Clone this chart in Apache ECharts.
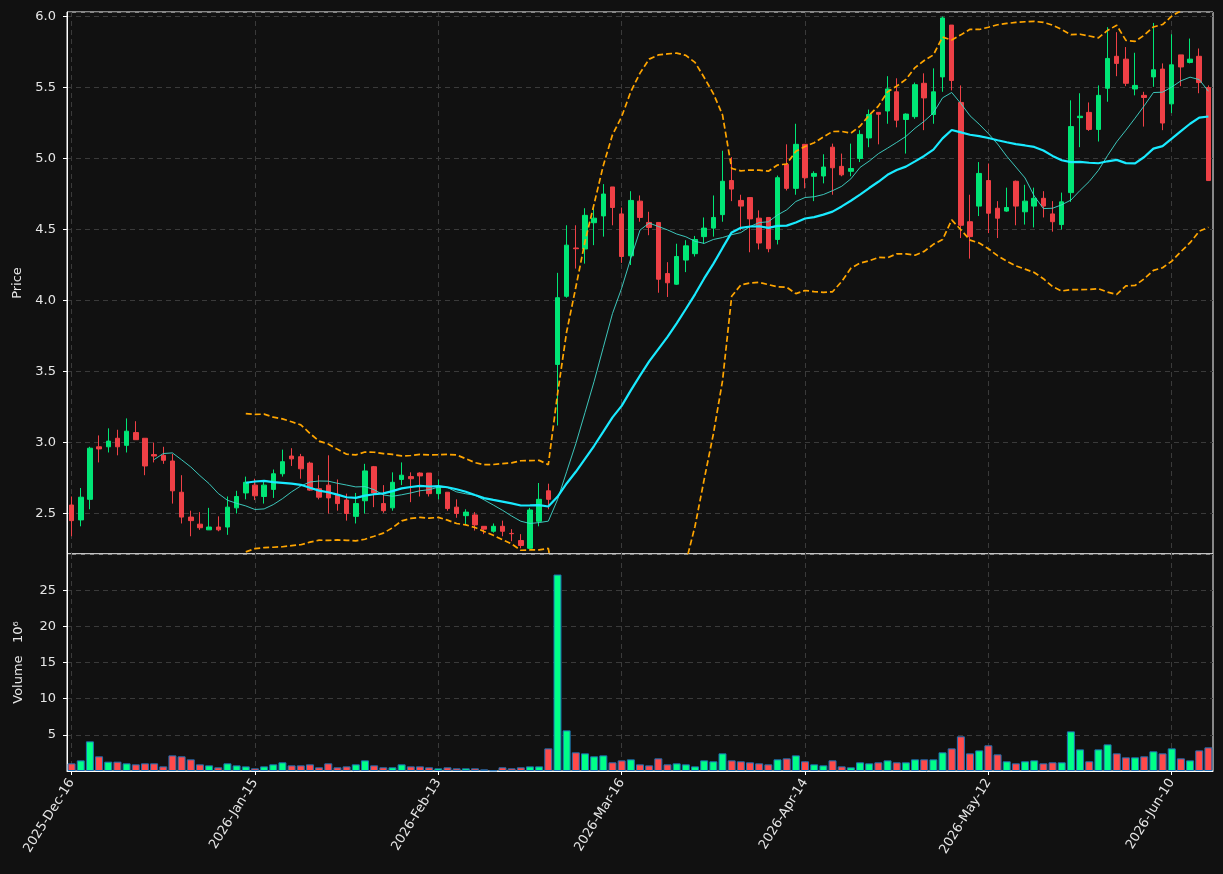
<!DOCTYPE html>
<html>
<head>
<meta charset="utf-8">
<script src="https://cdn.jsdelivr.net/npm/echarts@6/dist/echarts.min.js"></script>
<style>
html,body{margin:0;padding:0;background:#111111;}
#chart{width:1223px;height:874px;}
</style>
</head>
<body>
<div id="chart"></div>
<script>
const dates = [
'2025-Dec-16','2025-Dec-17','2025-Dec-18','2025-Dec-19','2025-Dec-22','2025-Dec-23','2025-Dec-24','2025-Dec-26','2025-Dec-29','2025-Dec-30','2025-Dec-31',
'2026-Jan-02','2026-Jan-05','2026-Jan-06','2026-Jan-07','2026-Jan-08','2026-Jan-09','2026-Jan-12','2026-Jan-13','2026-Jan-14','2026-Jan-15',
'2026-Jan-16','2026-Jan-20','2026-Jan-21','2026-Jan-22','2026-Jan-23','2026-Jan-26','2026-Jan-27','2026-Jan-28','2026-Jan-29','2026-Jan-30',
'2026-Feb-02','2026-Feb-03','2026-Feb-04','2026-Feb-05','2026-Feb-06','2026-Feb-09','2026-Feb-10','2026-Feb-11','2026-Feb-12','2026-Feb-13',
'2026-Feb-17','2026-Feb-18','2026-Feb-19','2026-Feb-20','2026-Feb-23','2026-Feb-24','2026-Feb-25','2026-Feb-26','2026-Feb-27',
'2026-Mar-02','2026-Mar-03','2026-Mar-04','2026-Mar-05','2026-Mar-06','2026-Mar-09','2026-Mar-10','2026-Mar-11','2026-Mar-12','2026-Mar-13','2026-Mar-16',
'2026-Mar-17','2026-Mar-18','2026-Mar-19','2026-Mar-20','2026-Mar-23','2026-Mar-24','2026-Mar-25','2026-Mar-26','2026-Mar-27','2026-Mar-30','2026-Mar-31',
'2026-Apr-01','2026-Apr-02','2026-Apr-06','2026-Apr-07','2026-Apr-08','2026-Apr-09','2026-Apr-10','2026-Apr-13','2026-Apr-14',
'2026-Apr-15','2026-Apr-16','2026-Apr-17','2026-Apr-20','2026-Apr-21','2026-Apr-22','2026-Apr-23','2026-Apr-24','2026-Apr-27','2026-Apr-28','2026-Apr-29','2026-Apr-30',
'2026-May-01','2026-May-04','2026-May-05','2026-May-06','2026-May-07','2026-May-08','2026-May-11','2026-May-12',
'2026-May-13','2026-May-14','2026-May-15','2026-May-18','2026-May-19','2026-May-20','2026-May-21','2026-May-22','2026-May-26','2026-May-27','2026-May-28','2026-May-29',
'2026-Jun-01','2026-Jun-02','2026-Jun-03','2026-Jun-04','2026-Jun-05','2026-Jun-08','2026-Jun-09','2026-Jun-10',
'2026-Jun-11','2026-Jun-12','2026-Jun-15','2026-Jun-16'
];

const opens = [2.56,2.455,2.60,2.97,2.97,3.03,2.98,3.07,3.03,2.915,
2.91,2.87,2.65,2.475,2.425,2.385,2.405,2.405,2.54,2.645,
2.70,2.62,2.67,2.78,2.905,2.90,2.855,2.675,2.70,2.63,
2.595,2.48,2.59,2.83,2.57,2.54,2.74,2.76,2.785,2.785,
2.64,2.65,2.545,2.485,2.49,2.41,2.375,2.41,2.36,2.31,
2.255,2.445,2.66,3.55,4.03,4.37,4.363,4.548,4.596,4.80,
4.61,4.315,4.70,4.55,4.55,4.19,4.115,4.285,4.33,4.45,
4.51,4.605,4.845,4.705,4.725,4.58,4.585,4.43,4.96,4.79,
5.10,4.875,4.877,5.08,4.945,4.91,5.0,5.145,5.325,5.335,
5.47,5.275,5.295,5.53,5.31,5.575,5.94,5.395,4.555,4.665,
4.845,4.65,4.63,4.84,4.625,4.665,4.72,4.61,4.535,4.76,
5.288,5.325,5.205,5.495,5.72,5.70,5.49,5.445,5.575,5.63,
5.385,5.73,5.677,5.72,5.50];

const closes = [2.45,2.615,2.96,2.955,3.01,2.97,3.08,3.02,2.835,2.905,
2.875,2.66,2.475,2.45,2.40,2.405,2.385,2.545,2.62,2.72,
2.625,2.70,2.78,2.865,2.885,2.815,2.665,2.615,2.61,2.57,
2.50,2.57,2.80,2.645,2.52,2.72,2.77,2.745,2.765,2.64,
2.685,2.535,2.50,2.51,2.42,2.39,2.41,2.375,2.358,2.275,
2.525,2.60,2.60,4.02,4.39,4.365,4.60,4.58,4.75,4.655,
4.31,4.705,4.585,4.515,4.15,4.125,4.31,4.385,4.43,4.51,
4.585,4.84,4.785,4.665,4.575,4.405,4.365,4.865,4.79,5.10,
4.865,4.895,4.94,4.935,4.885,4.93,5.17,5.31,5.312,5.49,
5.27,5.313,5.52,5.427,5.47,5.99,5.55,4.53,4.45,4.895,
4.615,4.58,4.655,4.665,4.70,4.72,4.665,4.555,4.695,5.225,
5.298,5.205,5.445,5.705,5.67,5.53,5.515,5.43,5.625,5.25,
5.66,5.645,5.70,5.535,4.845];

const lows = [2.34,2.41,2.53,2.86,2.93,2.91,2.93,3.02,2.77,2.86,
2.85,2.57,2.43,2.34,2.385,2.385,2.375,2.35,2.50,2.60,
2.595,2.57,2.61,2.76,2.835,2.745,2.66,2.60,2.50,2.52,
2.45,2.43,2.50,2.545,2.505,2.52,2.70,2.58,2.62,2.62,
2.60,2.52,2.47,2.42,2.38,2.355,2.365,2.34,2.305,2.255,
2.25,2.41,2.53,3.12,4.02,4.225,4.26,4.39,4.45,4.53,
4.265,4.25,4.555,4.46,4.055,4.025,4.11,4.20,4.31,4.40,
4.45,4.555,4.70,4.495,4.34,4.36,4.34,4.395,4.775,4.745,
4.79,4.70,4.825,4.745,4.875,4.875,4.975,5.08,5.10,5.245,
5.22,5.035,5.28,5.20,5.245,5.47,5.48,4.44,4.295,4.595,
4.475,4.44,4.625,4.53,4.535,4.515,4.585,4.485,4.50,4.695,
5.08,5.195,5.12,5.40,5.58,5.51,5.445,5.225,5.505,5.20,
5.32,5.51,5.67,5.46,4.845];

const highs = [2.62,2.68,2.97,3.05,3.10,3.09,3.17,3.15,3.03,3.0,
2.97,2.92,2.77,2.52,2.51,2.54,2.48,2.62,2.66,2.76,
2.745,2.735,2.81,2.95,2.96,2.92,2.865,2.77,2.91,2.74,
2.64,2.645,2.85,2.835,2.70,2.79,2.86,2.79,2.79,2.785,
2.74,2.65,2.60,2.53,2.51,2.41,2.43,2.45,2.39,2.355,
2.54,2.715,2.71,4.195,4.53,4.53,4.65,4.66,4.82,4.80,
4.655,4.77,4.74,4.625,4.55,4.27,4.40,4.425,4.455,4.585,
4.74,5.055,5.01,4.745,4.725,4.635,4.585,4.88,5.10,5.245,
5.10,4.91,5.03,5.105,5.035,5.105,5.20,5.345,5.325,5.58,
5.565,5.318,5.535,5.60,5.635,6.0,5.94,5.515,4.745,4.975,
4.965,4.70,4.795,4.845,4.815,4.795,4.77,4.70,4.76,5.41,
5.46,5.395,5.515,5.925,5.89,5.785,5.745,5.47,5.955,5.67,
5.875,5.73,5.845,5.775,5.515];

// volume in millions
const volumes = [1.06,1.47,4.1,2.03,1.29,1.29,1.06,0.92,1.06,1.06,
0.64,2.16,2.03,1.61,0.92,0.78,0.51,1.06,0.78,0.64,
0.37,0.64,0.92,1.2,0.78,0.78,0.92,0.51,1.06,0.51,
0.64,0.92,1.47,0.78,0.51,0.51,0.92,0.64,0.64,0.51,
0.37,0.51,0.37,0.37,0.37,0.23,0.09,0.51,0.37,0.51,
0.64,0.64,3.13,27.16,5.62,2.58,2.44,2.03,2.16,1.2,
1.47,1.61,0.92,0.78,1.75,0.92,1.06,0.92,0.64,1.47,
1.34,2.44,1.47,1.34,1.2,1.06,0.92,1.61,1.75,2.16,
1.34,0.92,0.78,1.47,0.64,0.51,1.2,1.06,1.2,1.47,
1.2,1.2,1.61,1.61,1.61,2.58,3.13,4.79,2.44,2.85,
3.55,2.3,1.34,1.06,1.34,1.47,1.06,1.2,1.2,5.48,
2.99,1.34,2.99,3.68,2.44,1.89,1.89,2.03,2.72,2.44,
3.13,1.75,1.47,2.85,3.27];

const priceTicks = [2.5, 3.0, 3.5, 4.0, 4.5, 5.0, 5.5, 6.0];
const volumeTicks = [5, 10, 15, 20, 25];
const LABEL_EVERY = 20;

// indicators derived from the closes
function sma(arr, n) {
  return arr.map((v, i) => {
    if (i < n - 1) return '-';
    let s = 0;
    for (let k = i - n + 1; k <= i; k++) s += arr[k];
    return +(s / n).toFixed(4);
  });
}
function rollStd(arr, n) {
  return arr.map((v, i) => {
    if (i < n - 1) return null;
    let s = 0;
    for (let k = i - n + 1; k <= i; k++) s += arr[k];
    const m = s / n;
    let q = 0;
    for (let k = i - n + 1; k <= i; k++) q += (arr[k] - m) * (arr[k] - m);
    return Math.sqrt(q / (n - 1));
  });
}
const ma10 = sma(closes, 10);
const ma20 = sma(closes, 20);
const sd20 = rollStd(closes, 20);
const bbUpper = ma20.map((m, i) => m === '-' ? '-' : +(m + 2 * sd20[i]).toFixed(4));
const bbLower = ma20.map((m, i) => m === '-' ? '-' : +(m - 2 * sd20[i]).toFixed(4));

const UP = '#00e676', DOWN = '#ef4046';
const VUP = '#00ff88', VDOWN = '#ff4a4a';
const TXT = '#e6e6e6';
const GRIDC = '#3a3a3a';
const FONT = 'DejaVu Sans';

const candleData = opens.map((o, i) => [o, closes[i], lows[i], highs[i]]);
const volData = volumes.map((v, i) => ({
  value: v,
  itemStyle: { color: closes[i] >= opens[i] ? VUP : VDOWN }
}));

const labelInterval = (idx) => idx % LABEL_EVERY === 0;

const chart = echarts.init(document.getElementById('chart'), null, { renderer: 'canvas' });
chart.setOption({
  animation: false,
  backgroundColor: '#111111',
  textStyle: { fontFamily: FONT },
  grid: [
    { left: 67, top: 12, width: 1146, height: 542, show: true, backgroundColor: '#111111', borderColor: '#ffffff', borderWidth: 1, containLabel: false },
    { left: 67, top: 554, width: 1146, height: 217, show: true, backgroundColor: '#111111', borderColor: '#ffffff', borderWidth: 1, containLabel: false }
  ],
  xAxis: [
    {
      type: 'category', gridIndex: 0, data: dates, boundaryGap: true,
      axisLine: { show: false }, axisTick: { show: false }, axisLabel: { show: false },
      splitLine: { show: true, interval: labelInterval, alignWithLabel: true, lineStyle: { color: GRIDC, type: [5, 4], width: 1 } }
    },
    {
      type: 'category', gridIndex: 1, data: dates, boundaryGap: true,
      axisLine: { show: true, lineStyle: { color: '#ffffff' } },
      axisTick: { show: true, interval: labelInterval, alignWithLabel: true, length: 4, lineStyle: { color: '#ffffff' } },
      axisLabel: { show: true, interval: labelInterval, rotate: 58, color: TXT, fontSize: 13, fontFamily: FONT, margin: 9 },
      splitLine: { show: true, interval: labelInterval, alignWithLabel: true, lineStyle: { color: GRIDC, type: [5, 4], width: 1 } }
    }
  ],
  yAxis: [
    {
      type: 'value', gridIndex: 0, min: 2.215, max: 6.032, minInterval: 0.5, maxInterval: 0.5, splitNumber: 8,
      name: 'Price', nameLocation: 'middle', nameRotate: 90, nameGap: 43,
      nameTextStyle: { color: TXT, fontSize: 13, fontFamily: FONT },
      axisLine: { show: true, lineStyle: { color: '#ffffff' } },
      axisTick: { show: true, length: 4, lineStyle: { color: '#ffffff' } },
      axisLabel: {
        color: TXT, fontSize: 13, fontFamily: FONT, margin: 11, showMinLabel: false, showMaxLabel: false,
        formatter: (v) => priceTicks.some(t => Math.abs(t - v) < 1e-6) ? v.toFixed(1) : ''
      },
      splitLine: { show: true, lineStyle: { color: GRIDC, type: [5, 4], width: 1 } }
    },
    {
      type: 'value', gridIndex: 1, min: 0, max: 30, interval: 5,
      name: 'Volume   10⁶', nameLocation: 'middle', nameRotate: 90, nameGap: 42,
      nameTextStyle: { color: TXT, fontSize: 13, fontFamily: FONT },
      axisLine: { show: true, lineStyle: { color: '#ffffff' } },
      axisTick: { show: true, length: 4, lineStyle: { color: '#ffffff' } },
      axisLabel: {
        color: TXT, fontSize: 13, fontFamily: FONT, margin: 11, showMinLabel: false, showMaxLabel: false,
        formatter: (v) => volumeTicks.indexOf(v) >= 0 ? String(v) : ''
      },
      splitLine: { show: true, lineStyle: { color: GRIDC, type: [5, 4], width: 1 } }
    }
  ],
  series: [
    {
      type: 'candlestick', name: 'OHLC', xAxisIndex: 0, yAxisIndex: 0, data: candleData, barWidth: 5,
      itemStyle: { color: UP, color0: DOWN, borderColor: UP, borderColor0: DOWN, borderWidth: 1 },
      z: 3
    },
    {
      type: 'line', name: 'MA10', xAxisIndex: 0, yAxisIndex: 0, data: ma10, symbol: 'none', smooth: false,
      lineStyle: { color: '#40d8cc', width: 1, opacity: 0.9 }, z: 4
    },
    {
      type: 'line', name: 'MA20', xAxisIndex: 0, yAxisIndex: 0, data: ma20, symbol: 'none',
      lineStyle: { color: '#19eaff', width: 2.2 }, z: 4
    },
    {
      type: 'line', name: 'BB upper', xAxisIndex: 0, yAxisIndex: 0, data: bbUpper, symbol: 'none',
      lineStyle: { color: '#ffa500', width: 1.7, type: [6, 3] }, z: 4
    },
    {
      type: 'line', name: 'BB lower', xAxisIndex: 0, yAxisIndex: 0, data: bbLower, symbol: 'none',
      lineStyle: { color: '#ffa500', width: 1.7, type: [6, 3] }, z: 4
    },
    {
      type: 'bar', name: 'Volume', xAxisIndex: 1, yAxisIndex: 1, data: volData, barWidth: 8,
      itemStyle: { borderColor: '#1f6fb4', borderWidth: 1 }, z: 3
    }
  ]
});
</script>
</body>
</html>
